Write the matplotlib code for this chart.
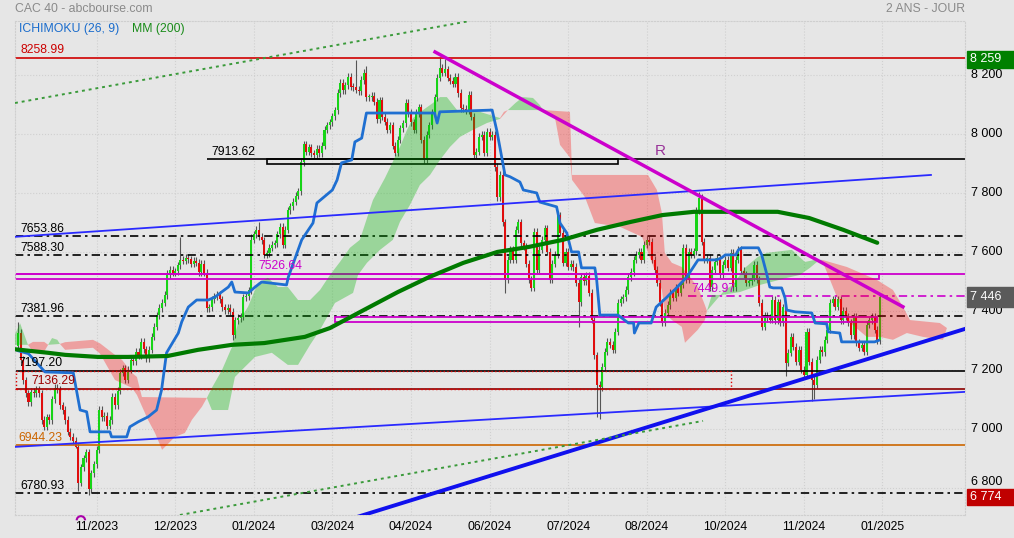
import matplotlib.pyplot as plt
from matplotlib.patches import Rectangle, Arc
from matplotlib import rcParams

rcParams['font.family'] = ['Liberation Sans', 'DejaVu Sans']

W, H = 1014, 538
BG = '#e6e6e6'

# clotures journalieres CAC 40, une valeur par seance (index 0 = mi-sept 2023)
closes = [
    7326, 7235, 7165, 7120, 7090, 7125, 7120, 7135, 7120, 7030,
    7007, 7040, 7030, 7100, 7140, 7135, 7080, 7064, 7030, 6990,
    6973, 6960, 6940, 6817, 6870, 6900, 6920, 6795, 6850, 6880,
    6930, 7064, 7040, 7045, 7010, 7030, 7108, 7080, 7130, 7190,
    7205, 7166, 7200, 7234, 7230, 7261, 7250, 7295, 7270, 7240,
    7268, 7312, 7346, 7386, 7410, 7427, 7454, 7522, 7540, 7529,
    7535, 7555, 7573, 7570, 7580, 7575, 7560, 7570, 7563, 7532,
    7560, 7530, 7410, 7413, 7440, 7450, 7454, 7440, 7413, 7403,
    7410, 7397, 7320, 7369, 7376, 7380, 7447, 7450, 7470, 7641,
    7660, 7675, 7651, 7640, 7590, 7595, 7615, 7625, 7630, 7660,
    7685, 7624, 7675, 7742, 7755, 7770, 7790, 7805, 7905, 7965,
    7940, 7955, 7935, 7930, 7950, 7935, 7960, 8014, 8030, 8040,
    8060, 8081, 8139, 8173, 8149, 8165, 8193, 8160, 8159, 8150,
    8145, 8183, 8207, 8125, 8125, 8130, 8110, 8050, 8115, 8058,
    8041, 8014, 8030, 7960, 7936, 7980, 8020, 8037, 8105, 8071,
    8040, 8014, 8071, 8090, 7980, 7912, 7997, 8030, 8071, 8125,
    8190, 8224, 8207, 8220, 8190, 8180, 8170, 8193, 8139, 8088,
    8085, 8081, 8132, 8058, 7929, 7940, 7990, 7997, 7936, 8007,
    7990, 7997, 7888, 7786, 7861, 7700, 7505, 7573, 7607, 7573,
    7675, 7700, 7630, 7617, 7560, 7505, 7479, 7668, 7539, 7607,
    7641, 7680, 7600, 7505, 7560, 7590, 7725, 7665, 7563, 7600,
    7550, 7560, 7549, 7495, 7430, 7515, 7500, 7520, 7461, 7370,
    7250, 7150, 7142, 7210, 7261, 7295, 7285, 7268, 7330, 7427,
    7440, 7447, 7471, 7515, 7532, 7573, 7590, 7600, 7573, 7624,
    7641, 7634, 7573, 7540, 7495, 7430, 7360, 7393, 7420, 7461,
    7444, 7478, 7461, 7488, 7614, 7505, 7600, 7590, 7603, 7742,
    7783, 7634, 7573, 7580, 7481, 7540, 7566, 7580, 7522, 7556,
    7573, 7546, 7597, 7480, 7573, 7607, 7536, 7522, 7495, 7500,
    7512, 7556, 7505, 7427, 7346, 7386, 7376, 7370, 7437, 7369,
    7430, 7360, 7413, 7224, 7258, 7312, 7278, 7227, 7268, 7200,
    7183, 7329, 7227, 7166, 7149, 7234, 7268, 7260, 7302, 7336,
    7427, 7440, 7414, 7440, 7369, 7400, 7380, 7360, 7318, 7380,
    7292, 7275, 7285, 7261, 7353, 7369, 7380, 7336, 7300, 7446,
]
first_open = 7280
wick = 12
high_marks = {0: 7362, 57: 7540, 62: 7650, 89: 7660, 92: 7700, 108: 7920,
              129: 8250, 133: 8230, 161: 8259, 163: 8255, 206: 7740,
              260: 7803, 329: 7460}
low_marks = {22: 6935, 23: 6790, 27: 6775, 82: 7300, 186: 7460, 214: 7345,
             221: 7040, 222: 7035, 293: 7180, 303: 7095, 304: 7100}

# moyenne mobile 200 (index, valeur)
mm200_b = [-1.2, 11.5, 18, 30.5, 42, 57, 68.7, 81.7, 94, 109.5, 119.1, 132,
           145, 157, 170, 183, 195, 208, 221, 234, 246, 258, 271, 290, 302, 315, 328]
mm200_v = [7270, 7258, 7251, 7244, 7244, 7247, 7268, 7285, 7291, 7312, 7342, 7403,
           7464, 7515, 7563, 7600, 7617, 7641, 7675, 7702, 7725, 7736, 7736, 7736,
           7715, 7675, 7631]

# kijun ichimoku
kijun_b = [0, 4, 10.3, 21.1, 23.7, 26.2, 27.5, 35.1, 35.7, 41.5, 42.7, 45.9, 49.7,
           52.9, 54.8, 56.7, 61.2, 62.5, 65, 68.2, 72.6, 75.2, 77.7, 80.3, 81.6, 82.8,
           87.9, 90.5, 93, 102.5, 103.2, 108.3, 112.6, 114.1, 120, 121.8, 123.5, 127.4,
           128.6, 131.2, 133, 159, 160, 161, 181, 182.8, 185.9, 187.8, 191.6, 192.9,
           198, 199.2, 205.6, 206.9, 209.5, 211.3, 214, 215.1, 220.2, 220.9, 222.1,
           229, 233, 235, 235.3, 237, 241.7, 243.6, 247.4, 249.3, 250.6, 255.3, 259.6,
           266.7, 268.6, 270, 274, 275, 276.3, 282.6, 283.9, 285.7, 287, 288.3, 291.5,
           292.8, 293.4, 296.6, 303, 304.3, 308.7, 309.3, 313.7, 314.4, 327, 328.5]
kijun_v = [7265, 7255, 7193, 7190, 7064, 7058, 6990, 6990, 6973, 6973, 7007, 7024, 7041,
           7064, 7132, 7258, 7325, 7363, 7413, 7437, 7437, 7447, 7464, 7481, 7498, 7464,
           7461, 7481, 7498, 7488, 7515, 7641, 7698, 7766, 7810, 7844, 7902, 7912,
           7973, 7986, 8071, 8071, 8037, 8075, 8081, 8010, 7861, 7855, 7837, 7810,
           7800, 7769, 7753, 7698, 7664, 7600, 7600, 7546, 7546, 7505, 7386,
           7386, 7359, 7359, 7325, 7359, 7359, 7413, 7444, 7461, 7471, 7515, 7573,
           7573, 7580, 7590, 7590, 7607, 7614, 7614, 7590, 7529, 7481, 7478, 7478,
           7444, 7403, 7397, 7393, 7359, 7356, 7329, 7325, 7295, 7295, 7300]

# nuage ichimoku : bords haut et bas (index, valeur)
g0_top = [(-1.2, 7320), (0.8, 7358), (3.8, 7285)]
g0_bot = [(-1.2, 7285), (3.8, 7285)]
r0_top = [(3.8, 7285), (5.7, 7295), (10, 7295), (11.5, 7285)]
r0_bot = [(3.8, 7285), (5.7, 7262), (10, 7262), (11.5, 7285)]
g1_top = [(11.5, 7285), (13, 7308), (15, 7302), (16, 7288)]
g1_bot = [(11.5, 7285), (16, 7288)]
r1_top = [(16, 7288), (18, 7294), (28.6, 7302), (31.3, 7290), (37, 7251), (39.7, 7234),
          (43.5, 7190), (45.4, 7176), (47.3, 7108), (72.1, 7105)]
r1_bot = [(16, 7288), (18, 7268), (28.6, 7275), (31.3, 7255), (37, 7166), (43.5, 7139),
          (45.4, 7115), (49.6, 7031), (52.3, 6986), (55, 6929), (56.9, 6946), (59.9, 6973),
          (63.7, 6986), (66.4, 7031), (70.2, 7075), (72.1, 7105)]
g2_top = [(72.1, 7105), (74, 7139), (77.9, 7200), (81.7, 7278), (84, 7359), (87.8, 7414),
          (91.6, 7495), (95.4, 7512), (99.2, 7481), (103, 7481), (106.9, 7437), (111.5, 7437),
          (115.3, 7471), (119.1, 7522), (122.9, 7566), (126.7, 7614), (130.5, 7641),
          (133.6, 7725), (135.5, 7776), (140.1, 7851), (145.8, 7956), (148.5, 8014),
          (150.8, 8054), (154.6, 8081), (158.4, 8105), (161.1, 8125), (163.7, 8125),
          (167.6, 8081), (176.3, 8075), (184, 8054)]
g2_bot = [(72.1, 7105), (74, 7064), (80.2, 7064), (82.8, 7176), (86.6, 7210), (90.5, 7244),
          (96.9, 7258), (103, 7217), (106.9, 7217), (111.5, 7285), (115.3, 7336), (121, 7427),
          (127.9, 7461), (129.8, 7522), (133.2, 7563), (138.2, 7607), (143.1, 7641),
          (145.8, 7702), (149.6, 7759), (153.4, 7827), (157.3, 7861), (161.1, 7912),
          (164.9, 7956), (168.7, 7990), (173.7, 8014), (179, 8037), (184, 8051)]
r2a_top = [(184, 8054), (185.5, 8075), (187, 8081)]
r2a_bot = [(184, 8051), (187, 8081)]
g3_top = [(187, 8081), (189.9, 8105), (192.7, 8125), (196.6, 8122), (199.2, 8098), (200.4, 8081)]
g3_bot = [(187, 8081), (200.4, 8081)]
r2_top = [(200.4, 8081), (210.7, 8075), (211.5, 7861), (240.5, 7861), (243.9, 7810),
          (245.8, 7732), (246.9, 7597), (249.6, 7563), (253.4, 7549), (259.5, 7481),
          (262.2, 7420), (263, 7400)]
r2_bot = [(200.4, 8081), (205, 8054), (206.9, 7963), (210.7, 7920), (211.5, 7844),
          (216.4, 7786), (220.2, 7698), (229.8, 7685), (238.2, 7651), (242, 7563),
          (245.8, 7471), (246.9, 7393), (249.6, 7369), (253.4, 7346), (254.6, 7292),
          (259.5, 7336), (262.2, 7369), (263, 7400)]
g4_top = [(263, 7400), (269.8, 7471), (272.9, 7488), (277.5, 7546), (282.4, 7583),
          (285.9, 7597), (295.4, 7607), (300.4, 7566), (304.2, 7573), (307, 7573)]
g4_bot = [(263, 7400), (264.9, 7454), (268.7, 7454), (275.6, 7464), (283.2, 7488),
          (293.5, 7512), (298.5, 7522), (302.3, 7546), (305, 7566), (307, 7570)]
r3_top = [(307, 7573), (316.4, 7549), (327.9, 7505), (334, 7471), (337.8, 7414),
          (340.5, 7369), (351.9, 7359), (354.6, 7342)]
r3_bot = [(307, 7570), (310, 7505), (312.6, 7447), (316.4, 7369), (324, 7312), (329, 7312),
          (334, 7302), (339.3, 7325), (345.4, 7312), (353.1, 7302), (354.6, 7342)]

# niveaux traces
lvl_ath = 8258.99
lvl_res = 7913.62
lvl_dash = [7653.86, 7588.30, 7381.96, 6780.93]
lvl_mag = 7526.64
lvl_mag_dd = 7449.97
lvl_black = 7197.20
lvl_darkred = 7136.29
lvl_orange = 6944.23

# droites (index debut, valeur debut, index fin, valeur fin)
trend_low_thin = (-1.15, 6939, 361.5, 7125.5)
trend_up_thin = (-1.5, 7651, 348.5, 7861)
trend_thick = (128.6, 6699, 361.5, 7339)
trend_mag = (159.2, 8278, 337.8, 7414)
dot_upper = (-1.15, 8105, 172.5, 8383)
dot_lower = (61.8, 6708, 261.5, 7027)

tick_pos = [30, 60, 90, 120, 150, 180, 210, 240, 270, 300, 330]
tick_labels = ['11/2023', '12/2023', '01/2024', '03/2024', '04/2024', '06/2024',
               '07/2024', '08/2024', '10/2024', '11/2024', '01/2025']
y_ticks = [6800, 7000, 7200, 7400, 7600, 7800, 8000, 8200]

fig = plt.figure(figsize=(W / 100, H / 100), dpi=100, facecolor=BG)
ax = fig.add_axes([15 / W, 1 - 515 / H, 950 / W, 494 / H], facecolor=BG)
ax.set_xlim(-1.15, 361.5)
ax.set_ylim(6708, 8383)

# grille
for s in ax.spines.values():
    s.set_color('#cfcfcf')
    s.set_linestyle(':')
ax.grid(color='#d0d0d0', linestyle=':', linewidth=0.8, zorder=0)
ax.set_axisbelow(True)

# bougies
n = len(closes)
idx = list(range(n))
opens = [first_open] + closes[:-1]
highs, lows, bottoms, heights, colors = [], [], [], [], []
for i in idx:
    o, c = opens[i], closes[i]
    highs.append(high_marks.get(i, max(o, c) + wick))
    lows.append(low_marks.get(i, min(o, c) - wick))
    bottoms.append(min(o, c))
    heights.append(max(abs(c - o), 4))
    colors.append('#17d417' if c >= o else '#e00d0d')
ax.vlines(idx, lows, highs, color='#555555', lw=0.8, zorder=2)
ax.bar(idx, heights, bottom=bottoms, width=0.78, color=colors, lw=0, zorder=2.2)

# niveaux horizontaux
dd = (0, (5, 2.5, 1.5, 2.5))
ax.axhline(lvl_ath, color='#d00000', lw=1.2, zorder=2.5)
ax.hlines(lvl_res, 72.1, 361.5, color='black', lw=1.2, zorder=2.5)
ax.add_patch(Rectangle((95, 7898), 134, lvl_res - 7898, fill=False, ec='black', lw=1.2, zorder=2.5))
for v in lvl_dash:
    ax.axhline(v, color='black', lw=1.2, ls=dd, zorder=2.5)
ax.axhline(lvl_mag, color='#cc00cc', lw=1.3, zorder=2.5)
ax.add_patch(Rectangle((-1.15, 7509), 329.8, lvl_mag - 7509, fill=False, ec='#cc00cc', lw=1.3, zorder=2.5))
ax.add_patch(Rectangle((121, 7362), 207, 17, fill=False, ec='#cc00cc', lw=1.3, zorder=2.5))
ax.hlines(lvl_mag_dd, 255.7, 361.5, color='#cc00cc', lw=1.2, ls=dd, zorder=2.5)
ax.axhline(lvl_black, color='black', lw=1.2, zorder=2.5)
ax.axhline(lvl_darkred, color='#8b0000', lw=1.2, zorder=2.5)
ax.add_patch(Rectangle((-0.9, lvl_darkred), 272.9, lvl_black - lvl_darkred, fill=False,
                       ec='#e00000', lw=1, ls=':', zorder=2.6))
ax.axhline(lvl_orange, color='#cc6600', lw=1.2, zorder=2.5)

# nuage
parts = [(g0_top, g0_bot, 'g'), (r0_top, r0_bot, 'r'), (g1_top, g1_bot, 'g'),
         (r1_top, r1_bot, 'r'), (g2_top, g2_bot, 'g'), (r2a_top, r2a_bot, 'r'),
         (g3_top, g3_bot, 'g'), (r2_top, r2_bot, 'r'), (g4_top, g4_bot, 'g'),
         (r3_top, r3_bot, 'r')]
for top, bot, kind in parts:
    xs = [p[0] for p in top] + [p[0] for p in reversed(bot)]
    ys = [p[1] for p in top] + [p[1] for p in reversed(bot)]
    if kind == 'g':
        ax.fill(xs, ys, color='#00b400', alpha=0.33, lw=0, zorder=3)
    else:
        ax.fill(xs, ys, color='#ff0000', alpha=0.3, lw=0, zorder=3)

ax.plot(kijun_b, kijun_v, color='#1f6fd1', lw=2, zorder=4)
ax.plot(mm200_b, mm200_v, color='#007a00', lw=3, zorder=5, solid_capstyle='round')

# droites de tendance
def seg(t, **kw):
    ax.plot([t[0], t[2]], [t[1], t[3]], **kw)

seg(trend_low_thin, color='#2a2aff', lw=1.3, zorder=6)
seg(trend_up_thin, color='#2a2aff', lw=1.3, zorder=6)
seg(trend_thick, color='#1010ee', lw=2.8, zorder=6)
seg(trend_mag, color='#cc00cc', lw=2.5, zorder=6)
seg(dot_upper, color='#3a9a3a', lw=1.4, ls=(0, (1.5, 2)), zorder=6)
seg(dot_lower, color='#3a9a3a', lw=1.4, ls=(0, (1.5, 2)), zorder=6)

ax.add_patch(Arc((24, 6690), 3.2, 28, theta1=0, theta2=180, color='#aa00aa', lw=1.5,
                 clip_on=False, zorder=6))

# etiquettes des niveaux
fs = 8.8
def lab(b, v, txt, col):
    ax.annotate(txt, (b, v), xytext=(0, 1), textcoords='offset points', va='bottom',
                ha='left', color=col, fontsize=fs, zorder=8)

lab(0.8, lvl_ath, '8258.99', '#cc0000')
lab(74, lvl_res, '7913.62', 'black')
lab(0.8, 7653.86, '7653.86', 'black')
lab(0.8, 7588.30, '7588.30', 'black')
lab(0.8, 7381.96, '7381.96', 'black')
lab(0.8, 6780.93, '6780.93', 'black')
lab(0.3, lvl_black, '7197.20', 'black')
lab(5.3, lvl_darkred, '7136.29', '#9a0000')
lab(0.3, lvl_orange, '6944.23', '#cc6600')
lab(91.6, lvl_mag, '7526.64', '#cc00cc')
lab(257, lvl_mag_dd, '7449.97', '#cc00cc')
ax.annotate('R', (243, lvl_res), xytext=(0, 1), textcoords='offset points', va='bottom',
            ha='left', color='#993399', fontsize=11, zorder=8)

# axes
ax.set_xticks(tick_pos)
ax.set_xticklabels(tick_labels)
ax.yaxis.tick_right()
ax.set_yticks(y_ticks)
ax.set_yticklabels([f'{v // 1000} {v % 1000:03d}' for v in y_ticks])
ax.tick_params(axis='both', length=0, labelsize=9, colors='black')
ax.tick_params(axis='y', pad=4)
ax.tick_params(axis='x', pad=4, labelsize=8.8)
for t in ax.get_yticklabels():
    t.set_va('bottom' if t.get_text() == '6 800' else 'center')

# titres
fig.text(15 / W, 1 - 9 / H, 'CAC 40 - abcbourse.com', color='#8a8a8a', fontsize=8.8, va='center')
fig.text(965 / W, 1 - 9 / H, '2 ANS - JOUR', color='#8a8a8a', fontsize=8.8, va='center', ha='right')
fig.text(19 / W, 1 - 29 / H, 'ICHIMOKU (26, 9)', color='#1a6ccc', fontsize=8.8, va='center')
fig.text(132 / W, 1 - 29 / H, 'MM (200)', color='#1a8c1a', fontsize=8.8, va='center')

# cartouches de prix a droite
for y0, y1, txt, col in [(51, 68, '8 259', '#008000'), (287, 307, '7 446', '#5a5a5a'),
                         (489, 505, '6 774', '#c00000')]:
    fig.patches.append(Rectangle((967 / W, 1 - y1 / H), 47 / W, (y1 - y0) / H,
                                 transform=fig.transFigure, color=col, zorder=5))
    fig.text(970 / W, 1 - (y0 + y1) / 2 / H, txt, color='white', fontsize=9, va='center', zorder=6)

plt.savefig('out.png', dpi=100, facecolor=BG)
